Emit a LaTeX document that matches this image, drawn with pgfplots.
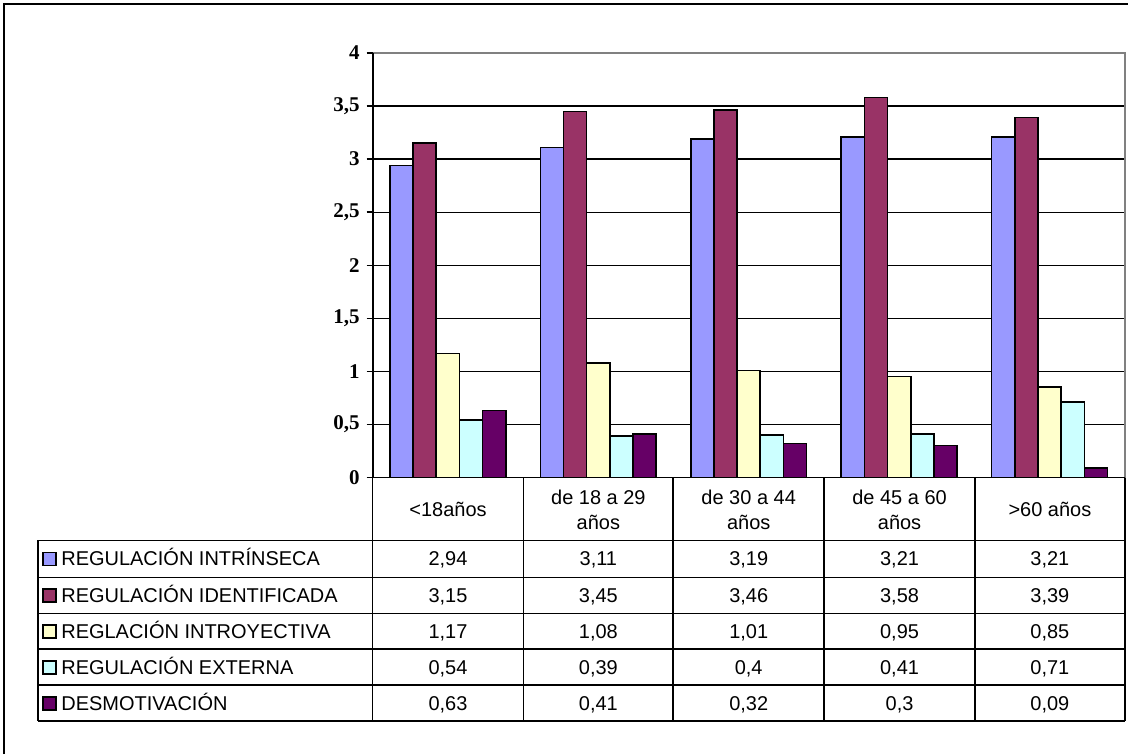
\documentclass[border=0pt]{standalone}
\usepackage{fontspec}
\setmainfont{Liberation Serif}
\newfontfamily\arial{Liberation Sans}
\usepackage{pgfplots}
\pgfplotsset{compat=1.18}
\definecolor{c1}{HTML}{9999FF}
\definecolor{c2}{HTML}{993366}
\definecolor{c3}{HTML}{FFFFCC}
\definecolor{c4}{HTML}{CCFFFF}
\definecolor{c5}{HTML}{660066}
\definecolor{gridgray}{HTML}{808080}
\newcommand\valrow[6]{%
  \node at (448.5,#1+2) {\strut #2};
  \node at (599,#1+2) {\strut #3};
  \node at (749.5,#1+2) {\strut #4};
  \node at (900.5,#1+2) {\strut #5};
  \node at (1051,#1+2) {\strut #6};
}
\newcommand\keyrow[3]{%
  \draw[fill=#2, draw=black, line width=0.85pt] (43,#1-6.5) rectangle (56,#1+6.5);
  \node[anchor=west] at (61,#1+2) {\strut #3};
}
\begin{document}
\begin{tikzpicture}
\begin{scope}[x=0.5pt,y=-0.5pt]
\path (0,0) rectangle (1129,755);
\draw[black,line width=1.2pt] (4,755) -- (4,4) -- (1129,4);
\end{scope}
\begin{axis}[at={(186.5pt,-239pt)}, anchor=south west, scale only axis,
  width=376.5pt, height=212.5pt,
  xmin=-0.5, xmax=4.5, ymin=0, ymax=4,
  ybar=0pt, bar width=11.6pt,
  xtick=\empty,
  ytick={0,0.5,1,1.5,2,2.5,3,3.5,4},
  ytick pos=left,
  ymajorgrids, grid style={black,line width=0.6pt},
  axis line style={draw=none},
  tick align=outside, major tick length=3pt,
  ytick style={black,line width=0.7pt},
  y tick label style={font=\fontsize{10.5}{12}\selectfont\bfseries},
  /pgf/number format/use comma,
  /pgf/number format/assume math mode=true,
  clip=false]
\addplot[fill=c1, draw=black, line width=0.8pt] coordinates {(0,2.94) (1,3.11) (2,3.19) (3,3.21) (4,3.21)};
\addplot[fill=c2, draw=black, line width=0.8pt] coordinates {(0,3.15) (1,3.45) (2,3.46) (3,3.58) (4,3.39)};
\addplot[fill=c3, draw=black, line width=0.8pt] coordinates {(0,1.17) (1,1.08) (2,1.01) (3,0.95) (4,0.85)};
\addplot[fill=c4, draw=black, line width=0.8pt] coordinates {(0,0.54) (1,0.39) (2,0.40) (3,0.41) (4,0.71)};
\addplot[fill=c5, draw=black, line width=0.8pt] coordinates {(0,0.63) (1,0.41) (2,0.32) (3,0.30) (4,0.09)};
\draw[gridgray, line width=1.1pt] (axis cs:-0.5,4) -- (axis cs:4.5,4) -- (axis cs:4.5,0);
\draw[black, line width=0.9pt] (axis cs:-0.5,0) -- (axis cs:-0.5,4);
\end{axis}
\begin{scope}[x=0.5pt,y=-0.5pt, every node/.style={font=\arial\fontsize{10}{12.5}\selectfont, inner sep=0pt}]
% table lines
\draw[black,line width=0.85pt] (373,478) -- (1126,478);
\foreach \yy in {541,578,614,650,686,722} \draw[black,line width=0.85pt] (38,\yy) -- (1126,\yy);
\foreach \xx in {373,524,674,825,976,1126} \draw[black,line width=0.85pt] (\xx,478) -- (\xx,722);
\draw[black,line width=0.85pt] (38,541) -- (38,722);
% header
\node[align=center] at (448.5,510) {<18años};
\node[align=center] at (599,510) {de 18 a 29\\años};
\node[align=center] at (749.5,510) {de 30 a 44\\años};
\node[align=center] at (900.5,510) {de 45 a 60\\años};
\node[align=center] at (1051,510) {>60 años};
% legend keys and labels
\keyrow{559.5}{c1}{REGULACIÓN INTRÍNSECA}
\keyrow{596}{c2}{REGULACIÓN IDENTIFICADA}
\keyrow{632}{c3}{REGLACIÓN INTROYECTIVA}
\keyrow{668}{c4}{REGULACIÓN EXTERNA}
\keyrow{704}{c5}{DESMOTIVACIÓN}
% values
\valrow{559.5}{2,94}{3,11}{3,19}{3,21}{3,21}
\valrow{596}{3,15}{3,45}{3,46}{3,58}{3,39}
\valrow{632}{1,17}{1,08}{1,01}{0,95}{0,85}
\valrow{668}{0,54}{0,39}{0,4}{0,41}{0,71}
\valrow{704}{0,63}{0,41}{0,32}{0,3}{0,09}
\end{scope}
\end{tikzpicture}
\end{document}
